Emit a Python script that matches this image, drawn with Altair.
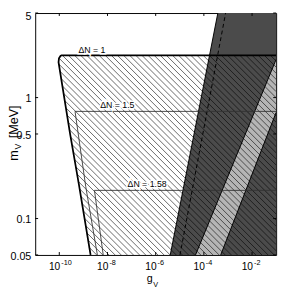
import numpy as np
import pandas as pd
import altair as alt

W, H = 248, 249
X_DOM = [1e-11, 1e-1]
Y_DOM = [0.05, 5]
FONT = "Liberation Sans"

# Delta N = 1 boundary (thick): right edge -> along top -> down the left curve
dn1_g = [1e-1, 1.23e-10, 1.12e-10, 9.7e-11, 9.3e-11, 2.83e-10, 6.53e-10, 1.99e-9]
dn1_m = [2.23, 2.23, 2.21, 2.11, 1.96, 0.496, 0.191, 0.05]
# Delta N = 1.5 boundary
dn15_g = [1e-1, 4.5e-10, 1.25e-9, 3.81e-9]
dn15_m = [0.769, 0.769, 0.184, 0.05]
# Delta N = 1.58 boundary
dn158_g = [1e-1, 2.88e-9, 6.65e-9]
dn158_m = [0.171, 0.171, 0.05]

# dark excluded region (left boundary, filled to the right)
dark_m = [0.05, 5]
dark_left_g = [4.03e-6, 3.81e-4]
# dashed line
dash_m = [0.05, 5]
dash_g = [1.02e-5, 8.0e-4]
# light band
band_m = [0.05, 0.755, 2.07]
band_left_g = [4.5e-5, 1.24e-2, 0.1]
band_right_g = [5.0e-4, 0.1, 0.1]

labels = ["ΔN = 1", "ΔN = 1.5", "ΔN = 1.58"]
label_g = [6.2e-10, 5.0e-9, 6.8e-8]
label_m = [2.23, 0.769, 0.171]

x_ticks = [1e-10, 1e-8, 1e-6, 1e-4, 1e-2]
x_exp = ["-10", "-8", "-6", "-4", "-2"]
y_ticks = [0.05, 0.1, 0.5, 1, 5]
y_tick_labels = ["0.05", "0.1", "0.5", "1", "5"]

xs = alt.Scale(type="log", domain=X_DOM, nice=False)
ys = alt.Scale(type="log", domain=Y_DOM, nice=False)


def X(f="g"):
    return alt.X(f"{f}:Q", scale=xs, axis=None)


def Y(f="m"):
    return alt.Y(f"{f}:Q", scale=ys, axis=None)


def line_df(gs, ms):
    return pd.DataFrame({"g": gs, "m": ms, "i": list(range(len(gs)))})


# ---- hatching of the region right of the Delta N = 1 curve, below its top ----
lx0, lx1 = np.log10(X_DOM)
ly0, ly1 = np.log10(Y_DOM)
ppx = W / (lx1 - lx0)
ppy = H / (ly1 - ly0)


def to_uv(g, m):
    return (np.log10(g) - lx0) * ppx, (ly1 - np.log10(m)) * ppy


def from_uv(u, v):
    return 10 ** (u / ppx + lx0), 10 ** (ly1 - v / ppy)


cu, cv = to_uv(np.array(dn1_g[1:]), np.array(dn1_m[1:]))
f = cu - cv
v_top = cv[0]
spacing = 6.3
rows = []
c = f.min()
while c < W - v_top:
    v_start = np.interp(c, f[::-1], cv[::-1])
    v_start = max(v_start, v_top)
    v_end = min(H, W - c)
    if v_end > v_start + 0.5:
        g1, m1 = from_uv(v_start + c, v_start)
        g2, m2 = from_uv(v_end + c, v_end)
        rows.append({"g": g1, "m": m1, "g2": g2, "m2": m2})
    c += spacing
hatch_df = pd.DataFrame(rows)

dark_df = pd.DataFrame({"m": dark_m, "g": dark_left_g, "g2": [X_DOM[1]] * len(dark_m)})
band_df = pd.DataFrame({"m": band_m, "g": band_left_g, "g2": band_right_g})

dark = alt.Chart(dark_df).mark_area(orient="horizontal", color="#4b4b4b", clip=True).encode(
    y=Y(), x=X(), x2=alt.X2("g2"))
band = alt.Chart(band_df).mark_area(orient="horizontal", color="#b5b5b5", clip=True).encode(
    y=Y(), x=X(), x2=alt.X2("g2"))
hatch = alt.Chart(hatch_df).mark_rule(color="#000000", strokeWidth=0.6, clip=True).encode(
    x=X(), y=Y(), x2=alt.X2("g2"), y2=alt.Y2("m2"))


def path(gs, ms, **kw):
    return alt.Chart(line_df(gs, ms)).mark_line(clip=True, **kw).encode(
        x=X(), y=Y(), order="i:Q")


dark_edge = path(dark_left_g, dark_m, color="black", strokeWidth=1)
dash_line = path(dash_g, dash_m, color="black", strokeWidth=1, strokeDash=[4, 3])
band_left = path([band_left_g[0], band_left_g[2]], [band_m[0], band_m[2]], color="black", strokeWidth=1)
band_right = path([band_right_g[0], band_right_g[1]], [band_m[0], band_m[1]], color="black", strokeWidth=1)
l1 = path(dn1_g, dn1_m, color="black", strokeWidth=1.8)
l15 = path(dn15_g, dn15_m, color="#333333", strokeWidth=0.9)
l158 = path(dn158_g, dn158_m, color="#333333", strokeWidth=0.9)

lab_df = pd.DataFrame({"g": label_g, "m": label_m, "t": labels})
lab_halo = alt.Chart(lab_df).mark_text(align="left", baseline="alphabetic", dy=-3, fontSize=9,
                                       font=FONT, stroke="white", strokeWidth=3, fill="white").encode(
    x=X(), y=Y(), text="t:N")
lab = alt.Chart(lab_df).mark_text(align="left", baseline="alphabetic", dy=-3, fontSize=9,
                                  font=FONT, color="black").encode(x=X(), y=Y(), text="t:N")

xt_df = pd.DataFrame({"t": x_ticks, "e": x_exp, "b": ["10"] * len(x_ticks)})
yt_df = pd.DataFrame({"t": y_ticks, "l": y_tick_labels})

tick_b = alt.Chart(xt_df).mark_rule(color="black").encode(x=X("t"), y=alt.value(H), y2=alt.value(H - 3))
tick_t = alt.Chart(xt_df).mark_rule(color="black").encode(x=X("t"), y=alt.value(0), y2=alt.value(3))
tick_l = alt.Chart(yt_df).mark_rule(color="black").encode(y=Y("t"), x=alt.value(0), x2=alt.value(3))
tick_r = alt.Chart(yt_df).mark_rule(color="black").encode(y=Y("t"), x=alt.value(W), x2=alt.value(W - 3))

xl_base = alt.Chart(xt_df).mark_text(align="right", baseline="alphabetic", fontSize=10.5, font=FONT,
                                     dx=1).encode(x=X("t"), y=alt.value(H + 15), text="b:N")
xl_exp = alt.Chart(xt_df).mark_text(align="left", baseline="alphabetic", fontSize=7.5, font=FONT,
                                    dx=2).encode(x=X("t"), y=alt.value(H + 10), text="e:N")
yl_main = alt.Chart(yt_df[yt_df["l"] != "5"]).mark_text(align="right", baseline="middle", fontSize=11,
                                                         font=FONT, dx=-4, dy=2).encode(
    y=Y("t"), x=alt.value(0), text="l:N")
yl_top = alt.Chart(yt_df[yt_df["l"] == "5"]).mark_text(align="right", baseline="middle", fontSize=11,
                                                        font=FONT, dx=-4, dy=4).encode(
    y=Y("t"), x=alt.value(0), text="l:N")


def txt(s, x, y, size, angle=0, align="left"):
    return alt.Chart(pd.DataFrame({"s": [s]})).mark_text(
        align=align, baseline="alphabetic", fontSize=size, font=FONT, angle=angle, color="black"
    ).encode(x=alt.value(x), y=alt.value(y), text="s:N")


yt_m = txt("m", -18, 152, 13, angle=270)
yt_v = txt("V", -14.5, 140.5, 9, angle=270)
yt_u = txt("[MeV]", -18, 129, 13, angle=270)
xt_g = txt("g", 121, 276.5, 11, align="right")
xt_v = txt("V", 121.5, 281.5, 7.5)

chart = alt.layer(
    dark, band, hatch, dark_edge, dash_line, band_left, band_right,
    l1, l15, l158, lab_halo, lab,
    tick_b, tick_t, tick_l, tick_r, xl_base, xl_exp, yl_main, yl_top,
    yt_m, yt_v, yt_u, xt_g, xt_v,
).properties(
    width=W, height=H,
    autosize=alt.AutoSizeParams(type="none"),
    padding={"left": 28, "top": 1, "right": 5, "bottom": 36},
    background="white",
).configure_view(stroke="black", strokeWidth=1)

chart.save("out.html", embed_options={"renderer": "svg", "actions": False})
